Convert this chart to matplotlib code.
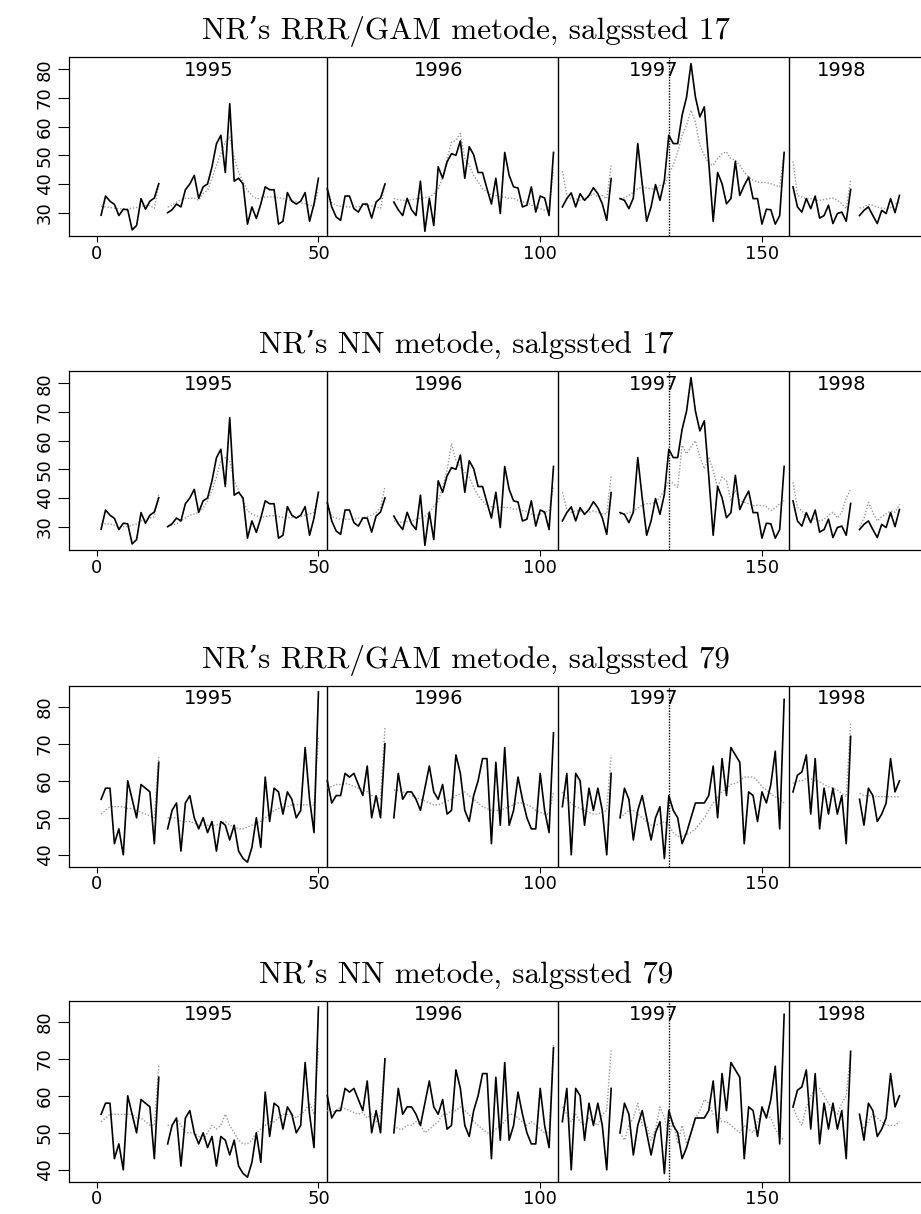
import numpy as np
import matplotlib
matplotlib.use("Agg")
import matplotlib.pyplot as plt

W, H = 921, 1214

# ---------------- data ----------------
# week ranges of the connected line segments (gaps = missing weeks)
seg_weeks = [(1, 14), (16, 50), (52, 65), (67, 103), (105, 116), (118, 155), (157, 170), (172, 181)]
year_breaks = [52, 104, 156]
holdout_week = 129
year_labels = ["1995", "1996", "1997", "1998"]
year_label_x = [25.2, 77.2, 125.6, 168.0]
x_ticks = [0, 50, 100, 150]
y_ticks_17 = [30, 40, 50, 60, 70, 80]
y_ticks_79 = [40, 50, 60, 70, 80]
titles = ["NR\u2019s RRR/GAM metode, salgssted 17",
          "NR\u2019s NN metode, salgssted 17",
          "NR\u2019s RRR/GAM metode, salgssted 79",
          "NR\u2019s NN metode, salgssted 79"]

actual_17 = [
    [29.1, 35.8, 34, 32.9, 29, 31.2, 31, 24, 25.5, 34.9, 31.2, 34, 35.1, 40.1],
    [30, 31, 33, 32, 38, 40, 43, 35, 39, 40, 46, 54, 57, 44, 68, 41, 42, 40, 26, 32, 28, 33, 39, 38, 38,
     26, 27, 37, 34, 33, 34, 37, 27, 33, 42],
    [38.4, 32, 28.5, 27.3, 35.8, 35.8, 31.4, 30.2, 33, 33, 28.1, 33.7, 35.1, 40],
    [33.7, 31, 29, 35, 31, 29, 41, 23.5, 35, 25.5, 46, 42, 47.7, 50.6, 50, 55, 42, 53, 50.2, 44, 44, 38.4,
     33, 42, 29.7, 51, 43, 39, 38.6, 32, 32.6, 39, 30.2, 35.8, 35.1, 29, 51],
    [32, 34.9, 36.9, 32, 36.6, 34.3, 36, 38.7, 36.6, 33.1, 27.3, 41.9],
    [34.9, 34.3, 31.4, 35.1, 54.1, 40, 27, 32, 39.8, 34.3, 41.3, 57, 54.1, 54.1, 64, 70.3, 82, 70.3, 63.4,
     66.9, 47.7, 27, 44, 40.1, 33.1, 34.9, 47.9, 36, 39.5, 42.4, 34.9, 34.9, 26, 31.2, 31, 26, 29, 51],
    [39, 32, 30.2, 34.9, 31.4, 35.8, 28.1, 29, 32.6, 26.2, 29.7, 30.2, 27, 38.1],
    [29, 30.8, 32, 29, 26.2, 30.8, 29.7, 34.9, 30, 36],
]
rrr_17 = [
    [32.2, 32, 31.8, 31.6, 31.3, 31.3, 31.3, 31.5, 31.8, 32.2, 32.5, 32.5, 31.5, 40],
    [32, 32.5, 33.7, 34.5, 35, 35, 35.1, 34.3, 36.6, 37.8, 41.9, 46.5, 50.6, 54.7, 56.4, 49.4, 44.2, 40.7,
     37.8, 36, 34.9, 34.9, 35.5, 35.5, 35.5, 35.2, 34.9, 34.6, 34.3, 33.9, 33.5, 33.1, 32.5, 32.5, 38],
    [38, 33.5, 32.5, 32.2, 32, 32, 32, 32, 32.5, 32.5, 32.3, 32, 31.5, 40],
    [35, 34.5, 34.3, 34.3, 34.5, 34.8, 35, 35.2, 35.5, 36.5, 38.4, 42, 48.8, 54.6, 55.2, 57.6, 49, 46.5,
     43, 40.7, 38.4, 37.2, 36, 36, 35.5, 35.5, 35, 35, 34.3, 33.7, 33.7, 32.6, 32, 31.4, 30.8, 31.5, 45],
    [44.5, 36, 34.9, 34.9, 34.3, 34.9, 35.5, 36.6, 35.5, 36, 34.9, 46.5],
    [34.9, 35.2, 36, 37.2, 38.4, 39, 38.6, 38.4, 38, 39.5, 39.5, 43.6, 46.5, 51.2, 57, 60.5, 65.7, 61.6,
     53.5, 50, 47.1, 46.5, 48.8, 50.6, 51.2, 48.8, 48.3, 46.5, 44.2, 42.4, 41.3, 40.7, 40.5, 40.5, 40.1,
     39.5, 39, 51],
    [47.9, 36, 35.5, 34.9, 34.9, 34.3, 34.3, 34.6, 34.9, 35.1, 34.3, 33.1, 31.4, 41.6],
    [31.6, 32, 32.8, 32.6, 32, 31.6, 31.4, 31.8, 33, 33.5],
]
nn_17 = [
    [31, 31, 31, 30.5, 30, 30, 30, 30.5, 31, 32, 32.5, 33, 33.5, 41.4],
    [30, 30.5, 31, 32, 33, 34, 34.4, 35, 36.5, 39, 42.6, 47.3, 53, 54, 53, 46, 42.6, 39, 35.6, 34.4, 33.8,
     33.2, 33.5, 33.8, 33.8, 33.5, 33.2, 33.2, 33.2, 33.2, 33.5, 34, 34.5, 35, 41],
    [38.5, 33.5, 33, 32.6, 32.6, 32.6, 32.6, 33, 33, 33.5, 34, 35, 36.7, 44],
    [32, 31.5, 31.5, 31.8, 32, 32.5, 33, 33.5, 35, 37, 39, 43.7, 49.6, 59, 53, 50.8, 49, 47.3, 43.7, 40.8,
     39, 37.3, 37, 36.7, 36.7, 36.7, 36.7, 36.1, 36.1, 35.6, 35.3, 34.4, 33.8, 34.4, 35, 35.6, 44],
    [42, 36, 35, 35.5, 35.5, 35, 35, 35.5, 35, 34.5, 34.5, 47.8],
    [34.4, 34.5, 34.8, 35.5, 36.5, 37.5, 38, 38, 38.5, 40.2, 42.6, 46, 45, 43.7, 58.4, 55.4, 57.8, 60,
     54.3, 50.2, 54.3, 49.6, 43.7, 47.3, 46, 39, 42.6, 39, 38.5, 38, 37.3, 37.5, 37.3, 37, 35.6, 36.5, 38, 39],
    [45.5, 36.7, 35.6, 33.2, 32, 33, 32, 32.5, 34, 35, 33, 35, 40, 43],
    [30, 33, 38.5, 35, 32, 33.5, 34.5, 35.5, 35, 37.8],
]
actual_79 = [
    [55, 58, 58, 43, 47, 40, 60, 55, 50, 59, 58, 57, 43, 65],
    [47, 52, 54, 41, 54, 56, 50, 47, 50, 46, 49, 41, 49, 48, 44, 48, 41, 39, 38, 42, 50, 42, 61, 49, 58,
     57, 51, 57, 55, 50, 52, 69, 55, 46, 84],
    [60, 54, 56, 56, 62, 61, 62, 59, 56, 64, 50, 56, 50, 70],
    [50, 62, 55, 57, 57, 55, 52, 58, 64, 57, 55, 59, 51, 52, 67, 62, 52, 49, 56, 60, 66, 66, 43, 65, 48,
     69, 48, 52, 61, 55, 50, 47, 47, 62, 52, 46, 73],
    [53, 62, 40, 62, 60, 48, 58, 52, 58, 52, 40, 62],
    [50, 58, 55, 44, 52, 56, 50, 44, 50, 53, 39, 56, 52, 50, 43, 46, 50, 54, 54, 54, 56, 64, 50, 66, 56,
     69, 67, 65, 43, 57, 56, 49, 57, 54, 59, 68, 47, 82],
    [57, 61.5, 62.4, 67, 51, 66, 47, 58, 51, 58, 51, 56, 43, 72],
    [55, 48, 58, 56, 49, 51, 54, 66, 57, 60],
]
rrr_79 = [
    [51, 52, 53, 53, 53, 53, 52.5, 52.5, 52, 51.5, 51, 50.5, 50, 66.5],
    [50, 50, 50, 49, 49, 49, 48.5, 48, 48, 48, 48, 48, 48.5, 49, 48, 47.5, 47, 47, 47.5, 48, 48.5, 49, 50,
     51, 52, 52.5, 53, 53, 53.5, 53.5, 53.5, 53.5, 53.5, 53.5, 72],
    [58, 58.5, 59, 59, 59.3, 59, 58.5, 58, 57.5, 57, 56, 55.5, 55, 74.4],
    [57.5, 57.5, 57, 56.5, 56, 55.5, 55, 54.5, 54, 53.5, 53.5, 54, 54.5, 55, 56, 56.5, 57, 56, 55, 54, 53,
     52.5, 52, 52, 52, 52.5, 53, 53.5, 54, 54, 53.5, 53, 52, 51.5, 51, 51, 57],
    [57, 55, 54, 53, 52.5, 52, 51.5, 51, 51, 51.5, 52, 67],
    [50, 51, 52, 52, 51, 50, 49, 48, 48, 48.5, 49, 48, 46, 45, 45, 45.5, 46, 47, 48.5, 50, 52, 54, 55.5,
     57, 58, 59, 59.3, 60, 61, 61, 61, 60, 58.4, 57.5, 56.5, 55.7, 55, 54],
    [59.3, 60, 60, 60.6, 60.6, 60, 59.7, 59, 58.4, 58, 57.5, 56.6, 55.7, 76],
    [56.6, 56, 56, 55.8, 55.7, 55.7, 55.7, 55.7, 55.7, 55.7],
]
nn_79 = [
    [53, 54, 55, 55, 55, 55, 55, 55, 54, 54, 53, 52, 52, 68.3],
    [52, 52, 54, 52, 50, 50, 50, 49, 48, 50, 52, 51, 52, 55, 52, 50, 48, 47, 47, 48, 50, 51, 52, 53, 53,
     54, 55, 55, 55, 54, 55, 56, 58, 55, 72.8],
    [56, 55.5, 56, 57, 56.5, 56, 55.5, 55, 55.5, 54, 55, 53, 55, 70],
    [52, 51, 51, 52, 52, 53, 52, 50, 51, 52, 53, 55, 55, 56, 56, 57, 56, 55, 53, 52, 51, 50, 50, 51, 52,
     53, 55, 55, 54, 53, 52, 53, 52, 51, 50, 50, 74],
    [57, 55, 53, 55, 53, 52, 54, 53, 52, 55, 56, 72.3],
    [50, 48, 52, 54, 58, 52, 52, 48, 51, 57, 54, 49, 53, 47, 52, 47, 50, 54, 56, 59, 58, 55, 55, 53, 53,
     52, 51, 50, 52, 51, 50, 53, 56, 55, 54, 51, 49, 48],
    [57, 54, 52, 57, 60, 62, 62, 60, 58, 56, 55, 58, 60, 72],
    [54, 51, 53, 55, 54, 53, 52, 52, 52, 53],
]

panels = [(actual_17, rrr_17, y_ticks_17), (actual_17, nn_17, y_ticks_17),
          (actual_79, rrr_79, y_ticks_79), (actual_79, nn_79, y_ticks_79)]

# ---------------- layout (pixels) ----------------
box_top = [56.7, 370.7, 685.7, 1000.7]
ylims = [(21.7, 84.4), (21.7, 84.4), (36.8, 85.7), (36.8, 85.7)]
px_per_unit = [2.867, 2.867, 3.7, 3.7]
xlim = (-6.24, 189.24)
ax_left_px, ax_right_px = 69, 936

fig = plt.figure(figsize=(W / 100, H / 100), dpi=100)
sans = ["DejaVu Sans"]
serif = ["cmr10", "DejaVu Serif"]

for i, (act, pred, yt) in enumerate(panels):
    h_px = (ylims[i][1] - ylims[i][0]) * px_per_unit[i]
    ax = fig.add_axes([ax_left_px / W, 1 - (box_top[i] + h_px) / H,
                       (ax_right_px - ax_left_px) / W, h_px / H])
    ax.set_xlim(*xlim)
    ax.set_ylim(*ylims[i])
    for (a, b), ya, yp in zip(seg_weeks, act, pred):
        xs = np.arange(a, b + 1)
        ax.plot(xs, yp, color="0.6", lw=1.0, ls=(0, (1, 1.3)), zorder=2)
        ax.plot(xs, ya, color="black", lw=1.2, zorder=3)
    for xb in year_breaks:
        ax.axvline(xb, color="black", lw=1.0, zorder=1)
    ax.axvline(holdout_week, color="black", lw=1.0, ls=(0, (1, 1)), zorder=1)
    for lab, xl in zip(year_labels, year_label_x):
        ax.text(xl, 1 - 13.3 / h_px, lab, transform=ax.get_xaxis_transform(),
                ha="center", va="center", fontsize=14, family=sans)
    ax.set_xticks(x_ticks)
    ax.set_xticklabels([str(t) for t in x_ticks], family=sans, fontsize=13)
    ax.set_yticks(yt)
    ax.set_yticklabels([str(t) for t in yt], family=sans, fontsize=13,
                       rotation=90, va="center")
    ax.tick_params(axis="y", direction="out", length=8, width=0.8, pad=3)
    ax.tick_params(axis="x", direction="out", length=4, width=0.8, pad=2)
    for sp in ax.spines.values():
        sp.set_linewidth(0.9)
    fig.text(466 / W, 1 - (box_top[i] - 18) / H, titles[i], ha="center", va="baseline",
             fontsize=22.4, family=serif)

fig.savefig("out.png", dpi=100)
